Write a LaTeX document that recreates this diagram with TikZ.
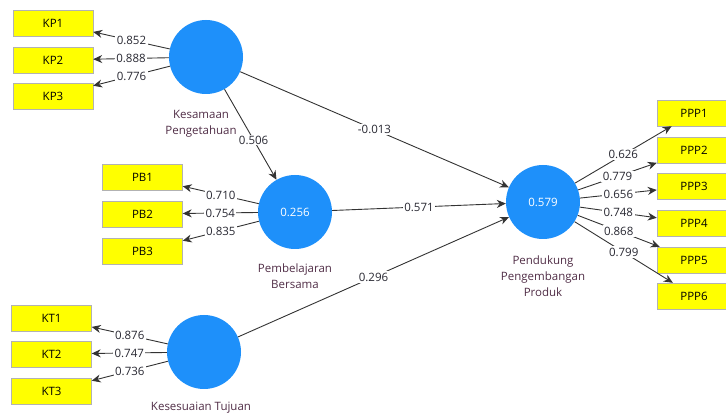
\documentclass[tikz,border=0pt]{standalone}
\usepackage{fontspec}
\setmainfont{Open Sans}
\usetikzlibrary{arrows.meta,positioning}

\definecolor{lvblue}{RGB}{30,144,250}
\definecolor{mvyellow}{RGB}{255,255,0}
\definecolor{captxt}{RGB}{80,45,70}
\definecolor{coeftxt}{RGB}{40,40,50}

\tikzset{
  latent/.style={circle,fill=lvblue,minimum size=74pt,inner sep=0pt,text=white,
    font=\fontsize{11.5}{13}\selectfont},
  indic/.style={rectangle,fill=mvyellow,draw=gray!60,minimum width=80pt,minimum height=26pt,
    inner sep=0pt,font=\fontsize{11.5}{13}\selectfont},
  caption/.style={align=center,text=captxt,inner sep=0pt,font=\fontsize{11.5}{16}\selectfont},
  load/.style={draw=black!80,line width=0.9pt,-{Stealth[length=9pt,width=8pt]}},
  coef/.style={fill=white,inner sep=1.5pt,text=coeftxt,font=\fontsize{11.5}{13}\selectfont}
}

\begin{document}
\begin{tikzpicture}[x=1pt,y=-1pt]
          \useasboundingbox (0,0) rectangle (726,419);
          % latent variables
          \node[latent] (kes) at (206,57) {};
          \node[latent] (pb) at (295,212) {0.256};
          \node[latent] (kt) at (204,352) {};
          \node[latent] (ppp) at (543,202) {0.579};
          \node[caption,below=16pt of kes,xshift=-5pt] (kescap) {Kesamaan\\Pengetahuan};
          \node[caption,below=14pt of pb] (pbcap) {Pembelajaran\\Bersama};
          \node[caption,below=13pt of kt,xshift=-3pt] (ktcap) {Kesesuaian Tujuan};
          \node[caption,below=16pt of ppp] (pppcap) {Pendukung\\Pengembangan\\Produk};
          % inner model
          \draw[load] (kes) -- node[coef,pos=0.56,inner sep=1pt]{0.506} (pb);
          \draw[load] (kes) -- node[coef]{-0.013} (ppp);
          \draw[load] (pb) -- node[coef]{0.571} (ppp);
          \draw[load] (kt) -- node[coef]{0.296} (ppp);
          % outer model
          \foreach \i/\y/\v in {1/23/0.852,2/60/0.888,3/96/0.776}{
            \node[indic] (kp\i) at (53,\y) {KP\i};
            \draw[load] (kes) -- node[coef]{\v} (kp\i);
          }
          \foreach \i/\y/\v in {1/177/0.710,2/214/0.754,3/251/0.835}{
            \node[indic] (pb\i) at (142.5,\y) {PB\i};
            \draw[load] (pb) -- node[coef]{\v} (pb\i);
          }
          \foreach \i/\y/\v in {1/318/0.876,2/354/0.747,3/391/0.736}{
            \node[indic] (kt\i) at (51.5,\y) {KT\i};
            \draw[load] (kt) -- node[coef]{\v} (kt\i);
          }
          \foreach \i/\y/\v in {1/113/0.626,2/150/0.779,3/186/0.656,4/223/0.748,5/260/0.868,6/296/0.799}{
            \node[indic,minimum width=74pt] (ppp\i) at (694,\y) {PPP\i};
            \draw[load] (ppp) -- node[coef]{\v} (ppp\i);
          }
        \end{tikzpicture}
\end{document}
